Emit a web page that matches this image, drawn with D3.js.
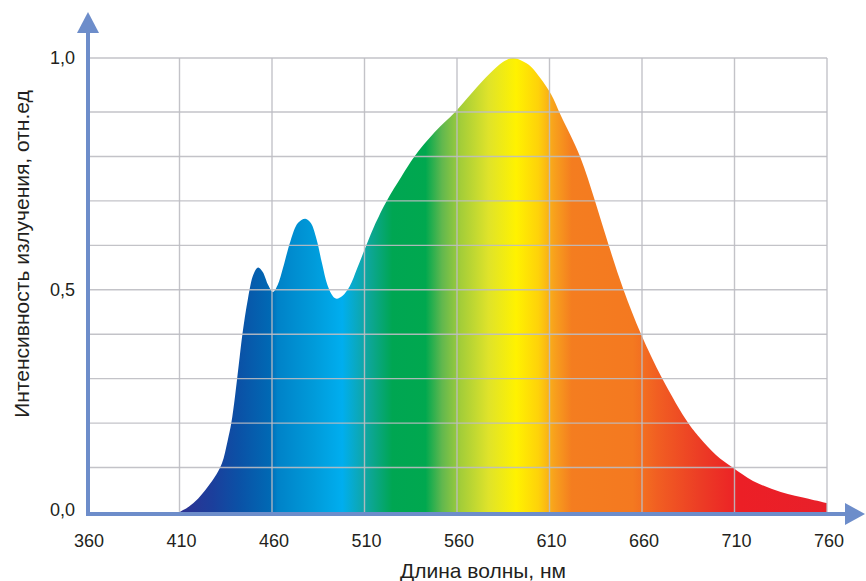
<!DOCTYPE html>
<html>
<head>
<meta charset="utf-8">
<script src="https://cdn.jsdelivr.net/npm/d3@7"></script>
<style>
  html, body { margin: 0; padding: 0; background: #fff; }
  text { font-family: "Liberation Sans", Arial, sans-serif; fill: #231f20; }
</style>
</head>
<body>
<div id="chart"></div>
<script>
// Data
const wavelengths = [410, 415, 420, 425, 430, 433, 436, 438, 440, 442, 444, 447, 450, 452.5, 455, 458, 460.5,
  463, 466, 470, 474, 478, 481, 484, 487, 490, 493, 495, 498, 502, 506, 511, 516, 522, 530, 537, 548, 559,
  568, 578, 585, 590, 595, 600, 605, 611, 616, 626.5, 634.6, 642, 650, 659.5, 671, 685, 691, 700, 709, 720,
  735, 750, 760]
const intensity = [0, 0.012, 0.03, 0.055, 0.085, 0.11, 0.16, 0.2, 0.26, 0.33, 0.4, 0.48, 0.535, 0.55, 0.54, 0.51, 0.495,
  0.51, 0.55, 0.61, 0.65, 0.66, 0.65, 0.615, 0.56, 0.51, 0.485, 0.48, 0.486, 0.508, 0.548, 0.6, 0.65, 0.7, 0.755, 0.8, 0.855, 0.9,
  0.935, 0.972, 0.993, 1.0, 0.995, 0.984, 0.963, 0.932, 0.893, 0.8, 0.7, 0.6, 0.5, 0.4, 0.3, 0.2, 0.168, 0.128, 0.1, 0.07,
  0.045, 0.03, 0.02]
const xTicks = [360, 410, 460, 510, 560, 610, 660, 710, 760]
const yGrid = [0.1, 0.2, 0.3, 0.4, 0.5, 0.6, 0.7, 0.8, 0.9, 1.0]
const yTickLabels = [{ v: 0, t: '0,0' }, { v: 0.5, t: '0,5' }, { v: 1.0, t: '1,0' }]
// spectrum colours along the wavelength axis
const colorStops = [
  { nm: 410, c: '#2e3192' }, { nm: 428, c: '#1b3f9c' }, { nm: 442, c: '#0b51a6' }, { nm: 459, c: '#0069b4' },
  { nm: 463, c: '#0082c8' }, { nm: 482, c: '#009ad9' }, { nm: 498, c: '#00aeef' }, { nm: 510, c: '#10a6a6' },
  { nm: 525, c: '#00a652' }, { nm: 543, c: '#00a84f' }, { nm: 552, c: '#62b84e' }, { nm: 562, c: '#a3cd39' },
  { nm: 577, c: '#dfe32a' }, { nm: 592, c: '#fff200' }, { nm: 604, c: '#fed20a' }, { nm: 612, c: '#f8a31c' },
  { nm: 622, c: '#f47d20' }, { nm: 655, c: '#f47920' }, { nm: 668, c: '#f15f22' }, { nm: 691, c: '#ec3d25' },
  { nm: 713, c: '#ec1f26' }, { nm: 760, c: '#e8202a' }
]

const spectrum = wavelengths.map((nm, i) => ({ nm, v: intensity[i] }))

const dimensions = { width: 866, height: 581 }

const svg = d3.select('#chart')
  .append('svg')
  .attr('width', dimensions.width)
  .attr('height', dimensions.height)

// Scales (the top band 0.9..1.0 is drawn taller in the original)
const xScale = d3.scaleLinear().domain([360, 760]).range([87, 827])
const yScale = d3.scaleLinear().domain([0, 0.9, 1.0]).range([512, 112, 58])

// gradient
const grad = svg.append('defs').append('linearGradient')
  .attr('id', 'spec')
  .attr('gradientUnits', 'userSpaceOnUse')
  .attr('x1', xScale(410)).attr('x2', xScale(760))
  .attr('y1', 0).attr('y2', 0)
grad.selectAll('stop')
  .data(colorStops)
  .join('stop')
  .attr('offset', d => (d.nm - 410) / (760 - 410))
  .attr('stop-color', d => d.c)

// area
const area = d3.area()
  .x(d => xScale(d.nm))
  .y0(yScale(0) + 3)
  .y1(d => yScale(d.v))
  .curve(d3.curveCatmullRom.alpha(0.5))

svg.append('path')
  .datum(spectrum)
  .attr('d', area)
  .attr('fill', 'url(#spec)')

// grid on top of the fill
const grid = svg.append('g')
  .attr('stroke', '#bcbcc2')
  .attr('stroke-width', 1.4)
  .attr('stroke-opacity', 0.9)

grid.selectAll('.h')
  .data(yGrid)
  .join('line')
  .attr('x1', xScale(360)).attr('x2', xScale(760))
  .attr('y1', d => yScale(d)).attr('y2', d => yScale(d))

grid.selectAll('.v')
  .data(xTicks.slice(1))
  .join('line')
  .attr('x1', d => xScale(d)).attr('x2', d => xScale(d))
  .attr('y1', yScale(1)).attr('y2', yScale(0))

// axes with arrows
const axisColor = '#6d8dca'
const x0 = xScale(360) + 1
const yBase = yScale(0) + 2

svg.append('line')
  .attr('x1', x0 - 2).attr('x2', 846)
  .attr('y1', yBase).attr('y2', yBase)
  .attr('stroke', axisColor).attr('stroke-width', 4)
svg.append('path')
  .attr('d', `M845,${yBase - 11} L865,${yBase} L845,${yBase + 11} Z`)
  .attr('fill', axisColor)

svg.append('line')
  .attr('x1', x0).attr('x2', x0)
  .attr('y1', yBase + 2).attr('y2', 32)
  .attr('stroke', axisColor).attr('stroke-width', 4)
svg.append('path')
  .attr('d', `M${x0 - 11},33 L${x0},12 L${x0 + 11},33 Z`)
  .attr('fill', axisColor)

// tick labels
svg.append('g')
  .selectAll('text')
  .data(xTicks)
  .join('text')
  .attr('x', d => xScale(d) + 2)
  .attr('y', 547)
  .attr('text-anchor', 'middle')
  .style('font-size', '18px')
  .text(d => d)

svg.append('g')
  .selectAll('text')
  .data(yTickLabels)
  .join('text')
  .attr('x', 75)
  .attr('y', d => yScale(d.v) + (d.v === 0 ? 4 : 6))
  .attr('text-anchor', 'end')
  .style('font-size', '18px')
  .text(d => d.t)

// titles
svg.append('text')
  .attr('x', 483)
  .attr('y', 578)
  .attr('text-anchor', 'middle')
  .style('font-size', '21px')
  .text('Длина волны, нм')

svg.append('text')
  .attr('transform', 'translate(29, 254) rotate(-90)')
  .attr('text-anchor', 'middle')
  .style('font-size', '21px')
  .text('Интенсивность излучения, отн.ед')
</script>
</body>
</html>
